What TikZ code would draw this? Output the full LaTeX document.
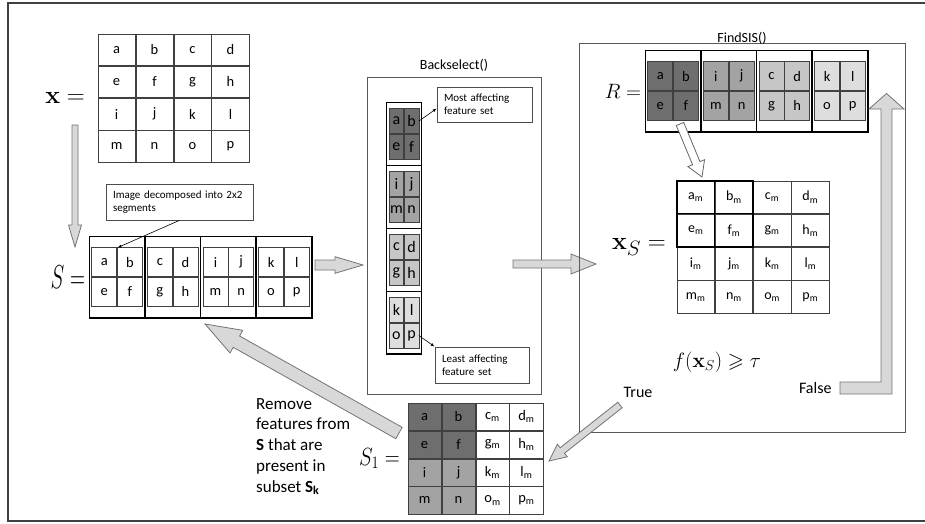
\documentclass[tikz,border=0pt]{standalone}
\usepackage{amsmath}
\usepackage{amssymb}
\usepackage{graphicx}
\usepackage[no-math]{fontspec}
\setmainfont{Carlito}
\usepackage{tikz}
\usetikzlibrary{matrix}
\usetikzlibrary{positioning}
\usetikzlibrary{calc}
\usetikzlibrary{arrows.meta}

\definecolor{darkcell}{RGB}{110,110,110}
\definecolor{midcell}{RGB}{163,163,163}
\definecolor{lightcell}{RGB}{198,198,198}
\definecolor{palecell}{RGB}{222,222,222}
\definecolor{arrowfill}{RGB}{216,216,216}
\definecolor{arrowline}{RGB}{115,115,115}

\tikzstyle{cellgrid} = [matrix of nodes, column sep=0pt, row sep=0pt, nodes={draw=black!75, line width=0.7pt, outer sep=0pt, inner sep=0pt, anchor=center}]
\tikzstyle{plaincells} = [cellgrid, nodes={minimum width=37.25pt, minimum height=31.5pt, font=\fontsize{14.5}{16}\selectfont}]
\tikzstyle{maskcells} = [cellgrid, nodes={minimum width=37.5pt, minimum height=32.5pt, font=\fontsize{14}{16}\selectfont}]
\tikzstyle{subcells} = [cellgrid, nodes={minimum width=33.25pt, minimum height=27.25pt, font=\fontsize{14.5}{16}\selectfont}]
\tikzstyle{segblock} = [cellgrid, draw, line width=1.6pt, outer sep=0pt, inner xsep=2.1pt, inner ysep=11pt, nodes={minimum width=25pt, minimum height=29pt, font=\fontsize{14.5}{16}\selectfont}]
\tikzstyle{ranked} = [cellgrid, draw, line width=1.4pt, outer sep=0pt, inner xsep=2.5pt, inner ysep=5.75pt, nodes={minimum width=14.5pt, minimum height=25pt, font=\fontsize{16}{17}\selectfont}]
\tikzstyle{note} = [draw=black!70, line width=0.7pt, align=left, inner xsep=7pt, font=\fontsize{11}{13}\selectfont]
\tikzstyle{pointer} = [line width=0.6pt, -{Latex[length=4pt,width=3pt]}]
\tikzstyle{fat} = [draw=arrowline, fill=arrowfill, line width=0.8pt, line join=miter]
\tikzstyle{panel} = [draw=black!65, line width=0.8pt]
\tikzstyle{mathlabel} = [inner sep=1pt]

% block arrow: tail, tip, shaft half width, head half width, head length
\newcommand{\fatarrow}[6][]{%
	\draw[fat,#1] (#3) -- ($(#3)!#6!(#2)!#5!-90:(#2)$) -- ($(#3)!#6!(#2)!#4!-90:(#2)$)
	-- ($(#2)!#4!90:(#3)$) -- ($(#2)!#4!-90:(#3)$)
	-- ($(#3)!#6!(#2)!#4!90:(#2)$) -- ($(#3)!#6!(#2)!#5!90:(#2)$) -- cycle;}

\begin{document}
\begin{tikzpicture}[x=1pt, y=-1pt]

	\useasboundingbox (0,0) rectangle (925,523);
	\draw[line width=1.2pt, black!75] (925,3) -- (8,3) -- (8,521) -- (925,521);

	% Input image x
	\matrix[plaincells] (xmat) at (173.5,98) {
		a & b & c & d \\
		e & f & g & h \\
		i & j & k & l \\
		m & n & o & p \\
	};
	\node[mathlabel, font=\fontsize{24.88}{26}\selectfont, left=8pt of xmat] (xlabel) {$\mathbf{x} =$};
	\coordinate (xdown) at (75,125);
	\coordinate (sdown) at (75,247);
	\fatarrow{xdown}{sdown}{3pt}{6.5pt}{22pt}

	% Segments S
	\matrix[segblock] (sa) at (117.1,277) {a & b \\ e & f \\};
	\matrix[segblock, right=0pt of sa] (sc) {c & d \\ g & h \\};
	\matrix[segblock, right=0pt of sc] (si) {i & j \\ m & n \\};
	\matrix[segblock, right=0pt of si] (sk) {k & l \\ o & p \\};
	\node[mathlabel, font=\fontsize{20.74}{22}\selectfont, left=3pt of sa] (slabel) {\scalebox{1}[1.6]{$S=$}};
	\node[note, text width=133pt, minimum height=36pt] (decomp) at (179.5,202) {Image decomposed into 2x2\\segments};
	\draw[pointer] (decomp.south) -- (sa-1-2.north west);

	% Backselect()
	\node[panel, minimum width=174pt, minimum height=317pt] (back) at (454,235.5) {};
	\node[anchor=base, inner sep=0pt, font=\fontsize{14}{16}\selectfont] (backtitle) at ([yshift=7pt]back.north) {Backselect()};
	\coordinate (stail) at (315,265);
	\coordinate (btip) at (363,265);
	\fatarrow{stail}{btip}{5pt}{8.3pt}{28pt}
	\matrix[ranked, nodes={fill=darkcell}] (ba) at (404,134) {a & b \\ e & f \\};
	\matrix[ranked, nodes={fill=midcell}, below=0pt of ba] (bi) {i & j \\ m & n \\};
	\matrix[ranked, nodes={fill=lightcell}, below=0pt of bi] (bc) {c & d \\ g & h \\};
	\matrix[ranked, nodes={fill=palecell}, below=0pt of bc] (bk) {k & l \\ o & p \\};
	\node[note, text width=81pt, minimum height=35pt] (most) at (484.5,104.5) {Most affecting\\feature set};
	\node[note, text width=80pt, minimum height=36pt] (least) at (482,365) {Least affecting\\feature set};
	\draw[pointer] (ba-1-2.east) -- ([yshift=-4pt]most.west);
	\draw[pointer] (bk-2-2.east) -- (least.north west);

	% FindSIS()
	\coordinate (btail) at (513,264);
	\coordinate (ftip) at (596,264);
	\fatarrow{btail}{ftip}{4pt}{10pt}{25pt}
	\node[panel, minimum width=326pt, minimum height=389pt] (find) at (742,237.5) {};
	\node[anchor=base, inner sep=0pt, font=\fontsize{14}{16}\selectfont] (findtitle) at (find.north) {FindSIS()};
	\matrix[segblock, nodes={fill=darkcell}] (ra) at (673.1,91) {a & b \\ e & f \\};
	\matrix[segblock, nodes={fill=midcell}, right=0pt of ra] (ri) {i & j \\ m & n \\};
	\matrix[segblock, nodes={fill=lightcell}, right=0pt of ri] (rc) {c & d \\ g & h \\};
	\matrix[segblock, nodes={fill=palecell}, right=0pt of rc] (rk) {k & l \\ o & p \\};
	\node[mathlabel, font=\fontsize{20.74}{22}\selectfont, left=3pt of ra] (rlabel) {$R =$};

	% Masked image x_S
	\matrix[maskcells] (xs) at (753,247) {
		a\textsubscript{m} & b\textsubscript{m} & c\textsubscript{m} & d\textsubscript{m} \\
		e\textsubscript{m} & f\textsubscript{m} & g\textsubscript{m} & h\textsubscript{m} \\
		i\textsubscript{m} & j\textsubscript{m} & k\textsubscript{m} & l\textsubscript{m} \\
		m\textsubscript{m} & n\textsubscript{m} & o\textsubscript{m} & p\textsubscript{m} \\
	};
	\draw[line width=1.7pt] (xs-1-1.north west) rectangle (xs-2-2.south east)
		(xs-1-1.north east) -- (xs-2-1.south east)
		(xs-1-1.south west) -- (xs-1-2.south east);
	\node[mathlabel, font=\fontsize{24.88}{26}\selectfont, left=6pt of xs] (xslabel) {$\mathbf{x}_S =$};
	\coordinate (rdown) at (680,124);
	\coordinate (xsin) at (702,177);
	\fatarrow[fill=white, draw=black!60]{rdown}{xsin}{4pt}{9pt}{15pt}
	\node[font=\fontsize{20.74}{22}\selectfont] (cond) at (717,362) {$f(\mathbf{x}_S) \geqslant \tau$};

	% False / True branches
	\node[anchor=east, font=\fontsize{16}{18}\selectfont] (falselab) at (835,388) {False};
	\draw[fat] (840,382) -- (881,382) -- (881,109) -- (869,109) -- (886.5,93.5) -- (904,109)
		-- (892,109) -- (892,394) -- (840,394) -- cycle;
	\node[font=\fontsize{16}{18}\selectfont] (truelab) at (638,392) {True};
	\coordinate (ttail) at (620,405);
	\coordinate (ttip) at (549,461);
	\fatarrow{ttail}{ttip}{3.5pt}{8pt}{17pt}

	% Subset S_1
	\matrix[subcells] (sone) at (475.5,458.5) {
		|[fill=darkcell]| a & |[fill=darkcell]| b & c\textsubscript{m} & d\textsubscript{m} \\
		|[fill=darkcell]| e & |[fill=darkcell]| f & g\textsubscript{m} & h\textsubscript{m} \\
		|[fill=midcell]| i & |[fill=midcell]| j & k\textsubscript{m} & l\textsubscript{m} \\
		|[fill=midcell]| m & |[fill=midcell]| n & o\textsubscript{m} & p\textsubscript{m} \\
	};
	\node[mathlabel, font=\fontsize{20.74}{23}\selectfont, left=3pt of sone] (sonelabel) {\scalebox{1}[1.2]{$S_1 =$}};
	\coordinate (onetail) at (399,433);
	\coordinate (segtip) at (205,324);
	\fatarrow{onetail}{segtip}{6.5pt}{13pt}{36pt}
	\node[anchor=west, align=left, inner sep=0pt, font=\fontsize{17}{20.7}\selectfont] (removetxt) at (256,446.5)
		{Remove\\features from\\\textbf{S} that are\\present in\\subset \textbf{S\textsubscript{k}}};

\end{tikzpicture}
\end{document}
